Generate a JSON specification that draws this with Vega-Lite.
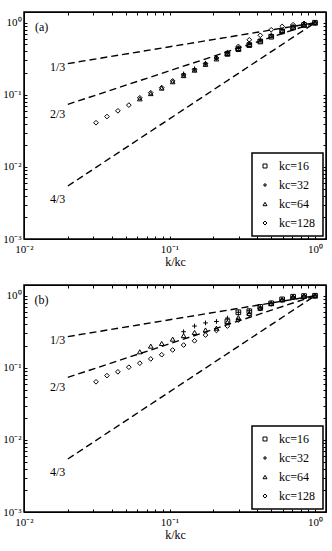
{
  "$schema": "https://vega.github.io/schema/vega-lite/v6.json",
  "padding": {"left": 1, "top": 10, "right": 5, "bottom": 5},
  "background": "white",
  "spacing": 15,
  "config": {
    "font": "Liberation Serif",
    "view": {"stroke": "black", "strokeWidth": 1.5},
    "axis": {
      "labelFont": "Liberation Serif", "labelFontSize": 11, "labelColor": "black",
      "titleFont": "Liberation Serif", "titleFontSize": 12, "titleFontWeight": "normal", "titleColor": "black",
      "domainColor": "black", "tickColor": "black", "tickWidth": 1, "grid": false,
      "labelOverlap": false, "labelBound": false, "labelFlush": false
    },
    "legend": {
      "strokeColor": "black", "strokeWidth": 1.5, "fillColor": "white", "padding": 7,
      "labelFont": "Liberation Serif", "labelFontSize": 12, "labelColor": "black",
      "rowPadding": 7, "labelOffset": 8, "symbolSize": 16, "symbolStrokeColor": "black",
      "symbolStrokeWidth": 1, "orient": "bottom-right", "offset": 3, "title": null
    }
  },
  "datasets": {
    "lines": [
      {"slope": "1/3", "x": 0.02, "y": 0.2714},
      {"slope": "1/3", "x": 1, "y": 1},
      {"slope": "2/3", "x": 0.02, "y": 0.07368},
      {"slope": "2/3", "x": 1, "y": 1},
      {"slope": "4/3", "x": 0.02, "y": 0.005429},
      {"slope": "4/3", "x": 1, "y": 1}
    ],
    "labels": [
      {"label": "1/3", "x": 0.0192, "y": 0.245},
      {"label": "2/3", "x": 0.0192, "y": 0.054},
      {"label": "4/3", "x": 0.0192, "y": 0.0036}
    ],
    "tags": [
      {"panel": "a", "tag": "(a)", "x": 0.0132, "y": 0.88},
      {"panel": "b", "tag": "(b)", "x": 0.0132, "y": 0.88}
    ],
    "pts": [
      {"panel":"a","series":"kc=128","x":0.03125,"y":0.041},
      {"panel":"a","series":"kc=128","x":0.03716,"y":0.050},
      {"panel":"a","series":"kc=128","x":0.04419,"y":0.060},
      {"panel":"a","series":"kc=128","x":0.05256,"y":0.072},
      {"panel":"a","series":"kc=128","x":0.0625,"y":0.091},
      {"panel":"a","series":"kc=128","x":0.07433,"y":0.107},
      {"panel":"a","series":"kc=128","x":0.08839,"y":0.126},
      {"panel":"a","series":"kc=128","x":0.10511,"y":0.156},
      {"panel":"a","series":"kc=128","x":0.125,"y":0.189},
      {"panel":"a","series":"kc=128","x":0.14865,"y":0.223},
      {"panel":"a","series":"kc=128","x":0.17678,"y":0.27},
      {"panel":"a","series":"kc=128","x":0.21022,"y":0.325},
      {"panel":"a","series":"kc=128","x":0.25,"y":0.385},
      {"panel":"a","series":"kc=128","x":0.2973,"y":0.47},
      {"panel":"a","series":"kc=128","x":0.35355,"y":0.58},
      {"panel":"a","series":"kc=128","x":0.42045,"y":0.67},
      {"panel":"a","series":"kc=128","x":0.5,"y":0.80},
      {"panel":"a","series":"kc=128","x":0.5946,"y":0.89},
      {"panel":"a","series":"kc=128","x":0.70711,"y":0.94},
      {"panel":"a","series":"kc=128","x":0.8409,"y":0.98},
      {"panel":"a","series":"kc=128","x":1,"y":1.0},
      {"panel":"a","series":"kc=64","x":0.0625,"y":0.088},
      {"panel":"a","series":"kc=64","x":0.07433,"y":0.104},
      {"panel":"a","series":"kc=64","x":0.08839,"y":0.124},
      {"panel":"a","series":"kc=64","x":0.10511,"y":0.152},
      {"panel":"a","series":"kc=64","x":0.125,"y":0.185},
      {"panel":"a","series":"kc=64","x":0.14865,"y":0.22},
      {"panel":"a","series":"kc=64","x":0.17678,"y":0.265},
      {"panel":"a","series":"kc=64","x":0.21022,"y":0.315},
      {"panel":"a","series":"kc=64","x":0.25,"y":0.375},
      {"panel":"a","series":"kc=64","x":0.2973,"y":0.44},
      {"panel":"a","series":"kc=64","x":0.35355,"y":0.50},
      {"panel":"a","series":"kc=64","x":0.42045,"y":0.56},
      {"panel":"a","series":"kc=64","x":0.5,"y":0.66},
      {"panel":"a","series":"kc=64","x":0.5946,"y":0.78},
      {"panel":"a","series":"kc=64","x":0.70711,"y":0.87},
      {"panel":"a","series":"kc=64","x":0.8409,"y":0.94},
      {"panel":"a","series":"kc=64","x":1,"y":1.0},
      {"panel":"a","series":"kc=32","x":0.125,"y":0.195},
      {"panel":"a","series":"kc=32","x":0.14865,"y":0.23},
      {"panel":"a","series":"kc=32","x":0.17678,"y":0.275},
      {"panel":"a","series":"kc=32","x":0.21022,"y":0.325},
      {"panel":"a","series":"kc=32","x":0.25,"y":0.385},
      {"panel":"a","series":"kc=32","x":0.2973,"y":0.45},
      {"panel":"a","series":"kc=32","x":0.35355,"y":0.52},
      {"panel":"a","series":"kc=32","x":0.42045,"y":0.58},
      {"panel":"a","series":"kc=32","x":0.5,"y":0.68},
      {"panel":"a","series":"kc=32","x":0.5946,"y":0.80},
      {"panel":"a","series":"kc=32","x":0.70711,"y":0.88},
      {"panel":"a","series":"kc=32","x":0.8409,"y":0.95},
      {"panel":"a","series":"kc=32","x":1,"y":1.0},
      {"panel":"a","series":"kc=16","x":0.25,"y":0.37},
      {"panel":"a","series":"kc=16","x":0.2973,"y":0.43},
      {"panel":"a","series":"kc=16","x":0.35355,"y":0.49},
      {"panel":"a","series":"kc=16","x":0.42045,"y":0.55},
      {"panel":"a","series":"kc=16","x":0.5,"y":0.64},
      {"panel":"a","series":"kc=16","x":0.5946,"y":0.76},
      {"panel":"a","series":"kc=16","x":0.70711,"y":0.86},
      {"panel":"a","series":"kc=16","x":0.8409,"y":0.93},
      {"panel":"a","series":"kc=16","x":1,"y":1.0},
      {"panel":"b","series":"kc=128","x":0.03125,"y":0.064},
      {"panel":"b","series":"kc=128","x":0.03716,"y":0.078},
      {"panel":"b","series":"kc=128","x":0.04419,"y":0.088},
      {"panel":"b","series":"kc=128","x":0.05256,"y":0.102},
      {"panel":"b","series":"kc=128","x":0.0625,"y":0.116},
      {"panel":"b","series":"kc=128","x":0.07433,"y":0.133},
      {"panel":"b","series":"kc=128","x":0.08839,"y":0.152},
      {"panel":"b","series":"kc=128","x":0.10511,"y":0.177},
      {"panel":"b","series":"kc=128","x":0.125,"y":0.207},
      {"panel":"b","series":"kc=128","x":0.14865,"y":0.237},
      {"panel":"b","series":"kc=128","x":0.17678,"y":0.285},
      {"panel":"b","series":"kc=128","x":0.21022,"y":0.33},
      {"panel":"b","series":"kc=128","x":0.25,"y":0.38},
      {"panel":"b","series":"kc=128","x":0.2973,"y":0.46},
      {"panel":"b","series":"kc=128","x":0.35355,"y":0.55},
      {"panel":"b","series":"kc=128","x":0.42045,"y":0.66},
      {"panel":"b","series":"kc=128","x":0.5,"y":0.77},
      {"panel":"b","series":"kc=128","x":0.5946,"y":0.87},
      {"panel":"b","series":"kc=128","x":0.70711,"y":0.95},
      {"panel":"b","series":"kc=128","x":0.8409,"y":0.98},
      {"panel":"b","series":"kc=128","x":1,"y":1.0},
      {"panel":"b","series":"kc=64","x":0.0625,"y":0.167},
      {"panel":"b","series":"kc=64","x":0.07433,"y":0.20},
      {"panel":"b","series":"kc=64","x":0.08839,"y":0.218},
      {"panel":"b","series":"kc=64","x":0.10511,"y":0.25},
      {"panel":"b","series":"kc=64","x":0.125,"y":0.28},
      {"panel":"b","series":"kc=64","x":0.14865,"y":0.31},
      {"panel":"b","series":"kc=64","x":0.17678,"y":0.335},
      {"panel":"b","series":"kc=64","x":0.21022,"y":0.355},
      {"panel":"b","series":"kc=64","x":0.25,"y":0.43},
      {"panel":"b","series":"kc=64","x":0.2973,"y":0.50},
      {"panel":"b","series":"kc=64","x":0.35355,"y":0.57},
      {"panel":"b","series":"kc=64","x":0.42045,"y":0.67},
      {"panel":"b","series":"kc=64","x":0.5,"y":0.78},
      {"panel":"b","series":"kc=64","x":0.5946,"y":0.88},
      {"panel":"b","series":"kc=64","x":0.70711,"y":0.96},
      {"panel":"b","series":"kc=64","x":0.8409,"y":0.99},
      {"panel":"b","series":"kc=64","x":1,"y":1.0},
      {"panel":"b","series":"kc=32","x":0.125,"y":0.317},
      {"panel":"b","series":"kc=32","x":0.14865,"y":0.38},
      {"panel":"b","series":"kc=32","x":0.17678,"y":0.42},
      {"panel":"b","series":"kc=32","x":0.21022,"y":0.44},
      {"panel":"b","series":"kc=32","x":0.25,"y":0.49},
      {"panel":"b","series":"kc=32","x":0.2973,"y":0.59},
      {"panel":"b","series":"kc=32","x":0.35355,"y":0.62},
      {"panel":"b","series":"kc=32","x":0.42045,"y":0.70},
      {"panel":"b","series":"kc=32","x":0.5,"y":0.79},
      {"panel":"b","series":"kc=32","x":0.5946,"y":0.88},
      {"panel":"b","series":"kc=32","x":0.70711,"y":0.96},
      {"panel":"b","series":"kc=32","x":0.8409,"y":0.99},
      {"panel":"b","series":"kc=32","x":1,"y":1.0},
      {"panel":"b","series":"kc=16","x":0.25,"y":0.44},
      {"panel":"b","series":"kc=16","x":0.2973,"y":0.59},
      {"panel":"b","series":"kc=16","x":0.35355,"y":0.61},
      {"panel":"b","series":"kc=16","x":0.42045,"y":0.70},
      {"panel":"b","series":"kc=16","x":0.5,"y":0.785},
      {"panel":"b","series":"kc=16","x":0.5946,"y":0.89},
      {"panel":"b","series":"kc=16","x":0.70711,"y":0.97},
      {"panel":"b","series":"kc=16","x":0.8409,"y":0.99},
      {"panel":"b","series":"kc=16","x":1,"y":1.0}
    ]
  },
  "resolve": {"scale": {"shape": "independent"}, "legend": {"shape": "independent"}},
  "vconcat": [
    {
      "width": 302, "height": 227,
      "encoding": {
        "x": {"field": "x", "type": "quantitative",
          "scale": {"type": "log", "domain": [0.01, 1.19], "nice": false},
          "axis": {"orient": "bottom", "title": "k/kc", "titlePadding": 2,
            "values": [0.01,0.02,0.03,0.04,0.05,0.06,0.07,0.08,0.09,0.1,0.2,0.3,0.4,0.5,0.6,0.7,0.8,0.9,1],
            "labelExpr": "datum.value == 0.01 ? '10⁻²' : datum.value == 0.1 ? '10⁻¹' : datum.value == 1 ? '10⁰' : ''",
            "tickSize": -3, "labelPadding": 7}},
        "y": {"field": "y", "type": "quantitative",
          "scale": {"type": "log", "domain": [0.001, 1.41], "nice": false},
          "axis": {"orient": "left", "title": null,
            "values": [0.001,0.002,0.003,0.004,0.005,0.006,0.007,0.008,0.009,0.01,0.02,0.03,0.04,0.05,0.06,0.07,0.08,0.09,0.1,0.2,0.3,0.4,0.5,0.6,0.7,0.8,0.9,1],
            "labelExpr": "datum.value == 0.001 ? '10⁻³' : datum.value == 0.01 ? '10⁻²' : datum.value == 0.1 ? '10⁻¹' : datum.value == 1 ? '10⁰' : ''",
            "tickSize": -3, "labelPadding": 6}}
      },
      "layer": [
        {
          "layer": [
            {"data": {"name": "lines"},
             "mark": {"type": "line", "strokeDash": [7, 4], "color": "black", "strokeWidth": 1.4},
             "encoding": {"detail": {"field": "slope"}}},
            {"data": {"name": "pts"},
             "transform": [{"filter": "datum.panel == 'a'"}],
             "mark": {"type": "point", "filled": false, "color": "black", "size": 22, "strokeWidth": 1, "opacity": 1},
             "encoding": {"shape": {"field": "series", "type": "nominal",
               "scale": {"domain": ["kc=16", "kc=32", "kc=64", "kc=128"],
                 "range": ["square", "M-1,0L1,0M0,-1L0,1", "triangle-up", "diamond"]}}}},
            {"data": {"name": "labels"},
             "mark": {"type": "text", "align": "right", "baseline": "middle", "fontSize": 12, "color": "black"},
             "encoding": {"text": {"field": "label"}}},
            {"data": {"name": "tags"},
             "transform": [{"filter": "datum.panel == 'a'"}],
             "mark": {"type": "text", "align": "center", "baseline": "middle", "fontSize": 12, "color": "black"},
             "encoding": {"text": {"field": "tag"}}}
          ]
        },
        {
          "data": {"name": "lines"},
          "mark": {"type": "point", "opacity": 0},
          "encoding": {
            "x": {"field": "x", "type": "quantitative",
              "scale": {"type": "log", "domain": [0.01, 1.19], "nice": false},
              "axis": {"orient": "top", "title": null, "labels": false,
                "values": [0.01,0.02,0.03,0.04,0.05,0.06,0.07,0.08,0.09,0.1,0.2,0.3,0.4,0.5,0.6,0.7,0.8,0.9,1],
                "tickSize": -3}},
            "y": {"field": "y", "type": "quantitative",
              "scale": {"type": "log", "domain": [0.001, 1.41], "nice": false},
              "axis": {"orient": "right", "title": null, "labels": false,
                "values": [0.001,0.002,0.003,0.004,0.005,0.006,0.007,0.008,0.009,0.01,0.02,0.03,0.04,0.05,0.06,0.07,0.08,0.09,0.1,0.2,0.3,0.4,0.5,0.6,0.7,0.8,0.9,1],
                "tickSize": -3}}
          }
        }
      ],
      "resolve": {"axis": {"x": "independent", "y": "independent"}}
    },
    {
      "width": 302, "height": 227,
      "encoding": {
        "x": {"field": "x", "type": "quantitative",
          "scale": {"type": "log", "domain": [0.01, 1.19], "nice": false},
          "axis": {"orient": "bottom", "title": "k/kc", "titlePadding": 2,
            "values": [0.01,0.02,0.03,0.04,0.05,0.06,0.07,0.08,0.09,0.1,0.2,0.3,0.4,0.5,0.6,0.7,0.8,0.9,1],
            "labelExpr": "datum.value == 0.01 ? '10⁻²' : datum.value == 0.1 ? '10⁻¹' : datum.value == 1 ? '10⁰' : ''",
            "tickSize": -3, "labelPadding": 7}},
        "y": {"field": "y", "type": "quantitative",
          "scale": {"type": "log", "domain": [0.001, 1.41], "nice": false},
          "axis": {"orient": "left", "title": null,
            "values": [0.001,0.002,0.003,0.004,0.005,0.006,0.007,0.008,0.009,0.01,0.02,0.03,0.04,0.05,0.06,0.07,0.08,0.09,0.1,0.2,0.3,0.4,0.5,0.6,0.7,0.8,0.9,1],
            "labelExpr": "datum.value == 0.001 ? '10⁻³' : datum.value == 0.01 ? '10⁻²' : datum.value == 0.1 ? '10⁻¹' : datum.value == 1 ? '10⁰' : ''",
            "tickSize": -3, "labelPadding": 6}}
      },
      "layer": [
        {
          "layer": [
            {"data": {"name": "lines"},
             "mark": {"type": "line", "strokeDash": [7, 4], "color": "black", "strokeWidth": 1.4},
             "encoding": {"detail": {"field": "slope"}}},
            {"data": {"name": "pts"},
             "transform": [{"filter": "datum.panel == 'b'"}],
             "mark": {"type": "point", "filled": false, "color": "black", "size": 22, "strokeWidth": 1, "opacity": 1},
             "encoding": {"shape": {"field": "series", "type": "nominal",
               "scale": {"domain": ["kc=16", "kc=32", "kc=64", "kc=128"],
                 "range": ["square", "M-1,0L1,0M0,-1L0,1", "triangle-up", "diamond"]}}}},
            {"data": {"name": "labels"},
             "mark": {"type": "text", "align": "right", "baseline": "middle", "fontSize": 12, "color": "black"},
             "encoding": {"text": {"field": "label"}}},
            {"data": {"name": "tags"},
             "transform": [{"filter": "datum.panel == 'b'"}],
             "mark": {"type": "text", "align": "center", "baseline": "middle", "fontSize": 12, "color": "black"},
             "encoding": {"text": {"field": "tag"}}}
          ]
        },
        {
          "data": {"name": "lines"},
          "mark": {"type": "point", "opacity": 0},
          "encoding": {
            "x": {"field": "x", "type": "quantitative",
              "scale": {"type": "log", "domain": [0.01, 1.19], "nice": false},
              "axis": {"orient": "top", "title": null, "labels": false,
                "values": [0.01,0.02,0.03,0.04,0.05,0.06,0.07,0.08,0.09,0.1,0.2,0.3,0.4,0.5,0.6,0.7,0.8,0.9,1],
                "tickSize": -3}},
            "y": {"field": "y", "type": "quantitative",
              "scale": {"type": "log", "domain": [0.001, 1.41], "nice": false},
              "axis": {"orient": "right", "title": null, "labels": false,
                "values": [0.001,0.002,0.003,0.004,0.005,0.006,0.007,0.008,0.009,0.01,0.02,0.03,0.04,0.05,0.06,0.07,0.08,0.09,0.1,0.2,0.3,0.4,0.5,0.6,0.7,0.8,0.9,1],
                "tickSize": -3}}
          }
        }
      ],
      "resolve": {"axis": {"x": "independent", "y": "independent"}}
    }
  ]
}
